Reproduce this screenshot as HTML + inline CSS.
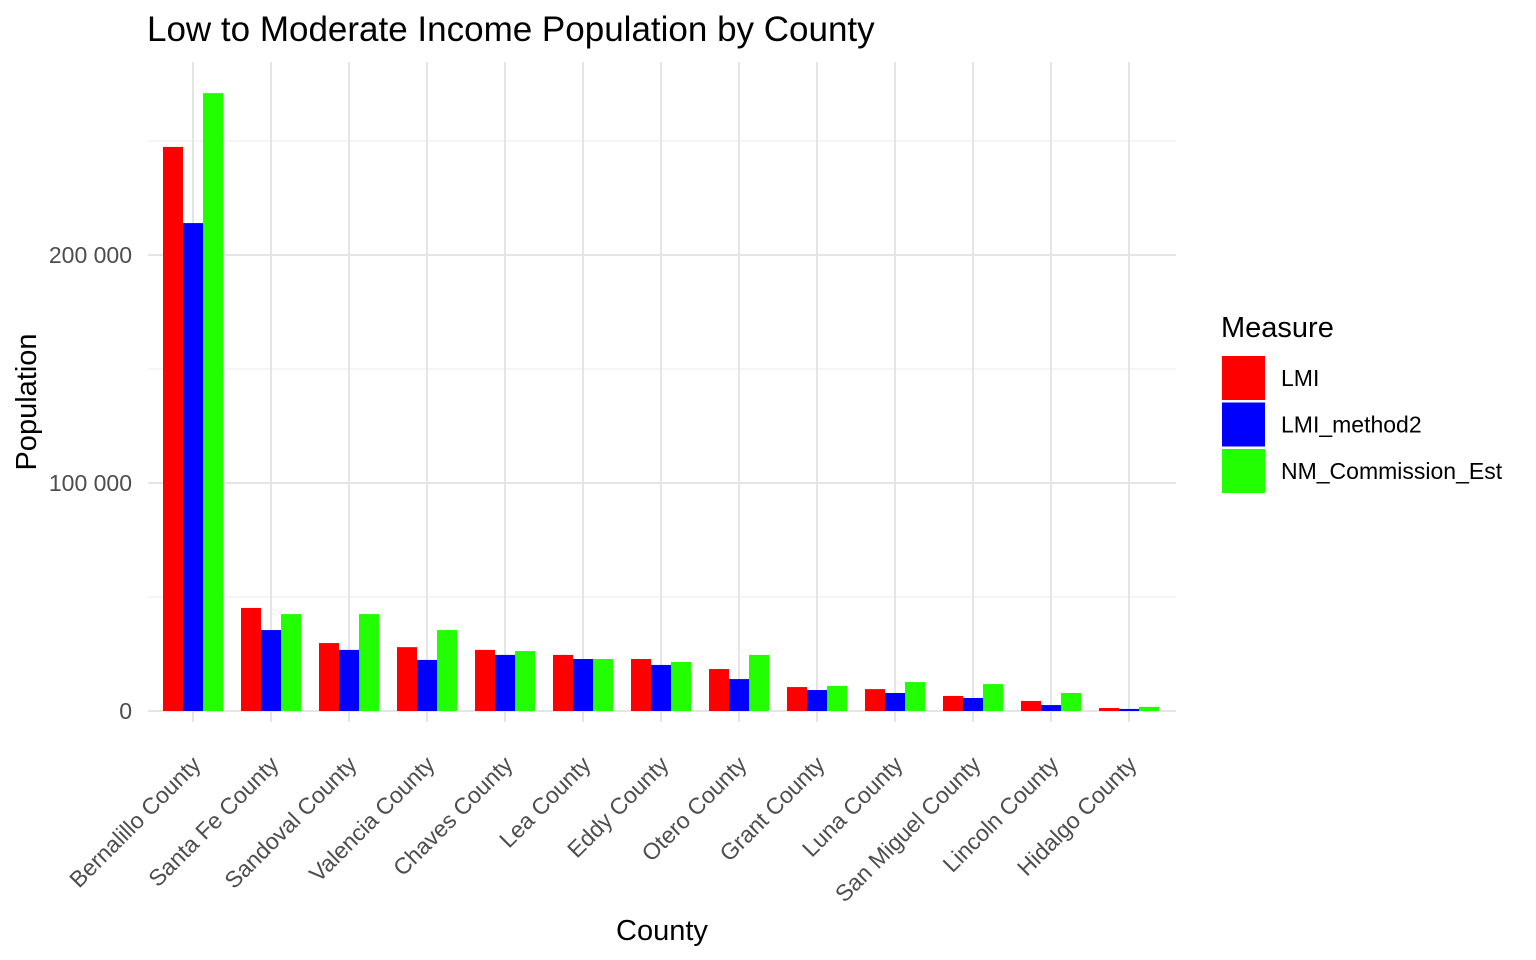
<!DOCTYPE html>
<html><head><meta charset="utf-8"><style>
html,body{margin:0;padding:0;background:#fff;}
svg{display:block;font-family:"Liberation Sans",Arial,sans-serif;}
</style></head><body>
<svg id="chart" width="1536" height="960"></svg>
<script>
const categories=["Bernalillo County","Santa Fe County","Sandoval County","Valencia County","Chaves County","Lea County","Eddy County","Otero County","Grant County","Luna County","San Miguel County","Lincoln County","Hidalgo County"];
const seriesNames=["LMI","LMI_method2","NM_Commission_Est"];
const lmi=[247400,45200,29800,28000,26800,24600,22800,18400,10500,9600,6600,4400,1300];
const lmiMethod2=[214000,35500,26800,22400,24600,22800,20200,14000,9200,7900,5700,2600,900];
const nmCommission=[271000,42500,42500,35500,26300,22800,21500,24600,11000,12700,11800,7900,1800];
const yTicks=[0,100000,200000];
const yTickLabels=["0","100 000","200 000"];
const yMinor=[50000,150000,250000];
const colors=["#ff0000","#0000ff","#22ff00"];
const series=[lmi,lmiMethod2,nmCommission];

const svg=document.getElementById('chart');
const NS="http://www.w3.org/2000/svg";
const L=148,R=1176,T=62,B=722;
const x0=193,step=78;
function xs(i){return x0+i*step;}
function ys(v){return 711-v*228/100000;}
function mk(tag,attrs,text){const e=document.createElementNS(NS,tag);for(const k in attrs)e.setAttribute(k,attrs[k]);if(text!==undefined)e.textContent=text;svg.appendChild(e);return e;}

let e;
yMinor.forEach(v=>{e=mk('line',{x1:L,x2:R,y1:ys(v),y2:ys(v),stroke:'#ebebeb','stroke-width':1});

});
yTicks.forEach((v,i)=>{e=mk('line',{x1:L,x2:R,y1:ys(v),y2:ys(v),stroke:'#e5e5e5','stroke-width':2});


e=mk('text',{x:132,y:ys(v)+8,'text-anchor':'end','font-size':23,fill:'#4d4d4d'},yTickLabels[i]);

});
categories.forEach((c,i)=>{e=mk('line',{x1:xs(i),x2:xs(i),y1:T,y2:B,stroke:'#e5e5e5','stroke-width':2});

});
const bw=20;
categories.forEach((c,i)=>{
  series.forEach((s,j)=>{
    const x=xs(i)-1.5*bw+j*bw;
    e=mk('rect',{x:x,y:ys(s[i]),width:bw,height:ys(0)-ys(s[i]),fill:colors[j]});
    
    
  });
  e=mk('text',{transform:`translate(${xs(i)+9},${766}) rotate(-45)`,'text-anchor':'end','font-size':23,fill:'#4d4d4d'},c);
  
  
});
e=mk('text',{x:147,y:41,'font-size':35,fill:'#000'},"Low to Moderate Income Population by County");


e=mk('text',{x:662,y:940,'text-anchor':'middle','font-size':29,fill:'#000'},"County");


e=mk('text',{transform:'translate(36,402) rotate(-90)','text-anchor':'middle','font-size':29,fill:'#000'},"Population");


e=mk('text',{x:1221,y:337,'font-size':29,fill:'#000'},"Measure");


seriesNames.forEach((n,j)=>{
  const y=356+j*46.5;
  e=mk('rect',{x:1222,y:y,width:43,height:44,fill:colors[j]});
  
  
  e=mk('text',{x:1281,y:y+30,'font-size':23,fill:'#000'},n);
  
  
});
</script>
</body></html>
